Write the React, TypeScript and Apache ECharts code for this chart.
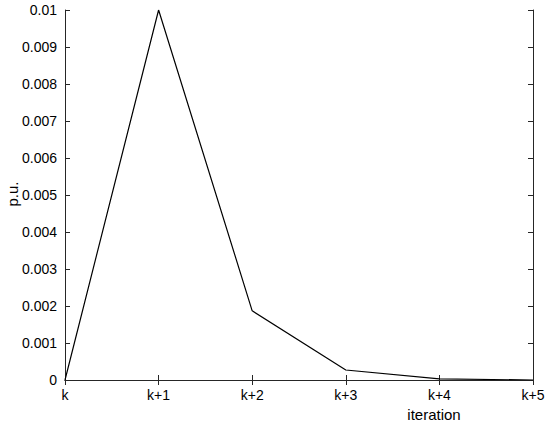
import React, { useEffect, useRef } from "react";
import * as echarts from "echarts";

const categories = ["k", "k+1", "k+2", "k+3", "k+4", "k+5"];
const values = [0, 0.01, 0.00187, 0.00027, 0.00003, 0];
const yTicks = { min: 0, max: 0.01, interval: 0.001 };
const xLabel = "iteration";
const yLabel = "p.u.";

export default function App() {
  const ref = useRef<HTMLDivElement>(null);
  useEffect(() => {
    if (!ref.current) return;
    const chart = echarts.init(ref.current, null, { renderer: "svg" });
    const axisColor = "#262626";
    const font = "'Liberation Sans', Arial, Helvetica, sans-serif";
    const fmt = (v: number) => (v === 0 ? "0" : String(parseFloat(v.toFixed(3))));
    chart.setOption({
      animation: false,
      backgroundColor: "#ffffff",
      grid: { left: 65, right: 17, top: 10, bottom: 49, containLabel: false },
      xAxis: [
        {
          type: "category",
          data: categories,
          boundaryGap: false,
          axisLine: { show: true, lineStyle: { color: axisColor, width: 1 } },
          axisTick: { show: true, inside: true, length: 5, alignWithLabel: true, lineStyle: { color: axisColor } },
          axisLabel: { color: "#000", fontSize: 14, fontFamily: font, margin: 8 },
          splitLine: { show: false },
        },
        {
          type: "category",
          data: categories,
          position: "top",
          boundaryGap: false,
          axisLine: { show: true, lineStyle: { color: axisColor, width: 1 } },
          axisTick: { show: true, inside: true, length: 5, lineStyle: { color: axisColor } },
          axisLabel: { show: false },
          splitLine: { show: false },
        },
      ],
      yAxis: [
        {
          type: "value",
          min: yTicks.min,
          max: yTicks.max,
          interval: yTicks.interval,
          axisLine: { show: true, lineStyle: { color: axisColor, width: 1 } },
          axisTick: { show: true, inside: true, length: 5, lineStyle: { color: axisColor } },
          axisLabel: { color: "#000", fontSize: 14, fontFamily: font, margin: 8, formatter: fmt },
          splitLine: { show: false },
        },
        {
          type: "value",
          position: "right",
          min: yTicks.min,
          max: yTicks.max,
          interval: yTicks.interval,
          axisLine: { show: true, lineStyle: { color: axisColor, width: 1 } },
          axisTick: { show: true, inside: true, length: 5, lineStyle: { color: axisColor } },
          axisLabel: { show: false },
          splitLine: { show: false },
        },
      ],
      graphic: [
        {
          type: "text",
          x: 434,
          y: 414,
          style: { text: xLabel, font: `15px ${font}`, fill: "#000", textAlign: "center", textVerticalAlign: "middle" },
        },
        {
          type: "text",
          x: 12,
          y: 194,
          rotation: Math.PI / 2,
          style: { text: yLabel, font: `15px ${font}`, fill: "#000", textAlign: "center", textVerticalAlign: "middle" },
        },
      ],
      series: [
        {
          type: "line",
          data: values,
          xAxisIndex: 0,
          yAxisIndex: 0,
          symbol: "none",
          lineStyle: { color: "#000", width: 1.2 },
        },
      ],
    });
    return () => chart.dispose();
  }, []);
  return <div ref={ref} style={{ width: 550, height: 429, position: "absolute", left: 0, top: 0 }} />;
}
